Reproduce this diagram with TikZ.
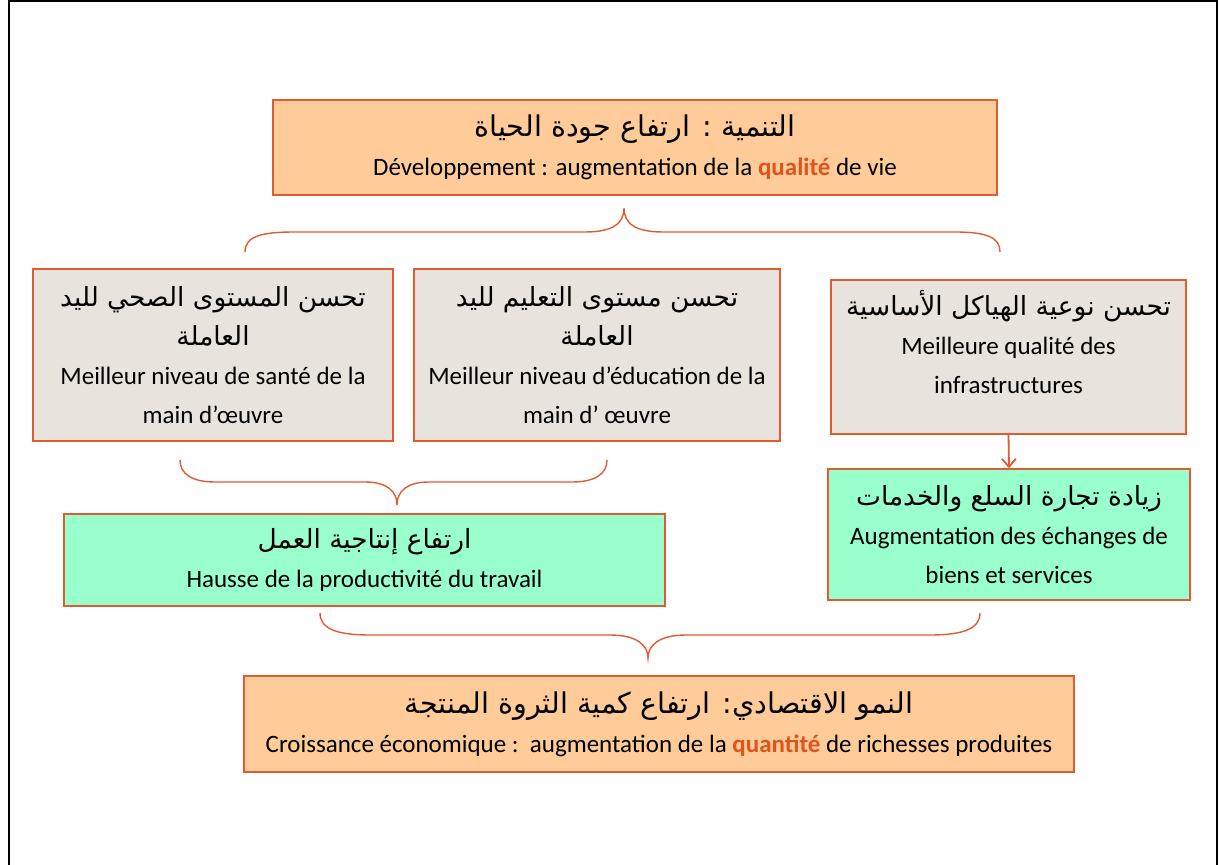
\documentclass[tikz,border=0pt]{standalone}
\usepackage{fontspec}
\setmainfont{Carlito}
\newfontfamily\arfont[Script=Arabic]{DejaVu Sans}
\TeXXeTstate=1
\usetikzlibrary{arrows.meta}
\definecolor{bord}{RGB}{224,92,48}
\definecolor{peach}{RGB}{255,204,153}
\definecolor{greyb}{RGB}{232,228,221}
\definecolor{mint}{RGB}{153,255,204}
\definecolor{hl}{RGB}{222,84,30}
\newcommand\AR[1]{{\arfont\fontsize{13.2}{20}\selectfont\beginR #1\endR}}
\newcommand\ARB[1]{{\arfont\fontsize{14.3}{20}\selectfont\beginR #1\endR}}
\newcommand\HL[1]{\textbf{\textcolor{hl}{#1}}}
\begin{document}
\begin{tikzpicture}[x=0.5pt,y=-0.5pt,
  box/.style={draw=bord,line width=0.8pt,rectangle,inner sep=0pt,align=center,
    font=\fontsize{12.5}{19.5}\selectfont},
  peachbox/.style={box,fill=peach},
  greybox/.style={box,fill=greyb},
  mintbox/.style={box,fill=mint},
  txt/.style={align=center,inner sep=0pt,font=\fontsize{12.5}{19.5}\selectfont},
  brace/.style={draw=bord,line width=0.7pt},
  arr/.style={draw=bord,line width=0.9pt,-{Straight Barb[length=4pt,width=7pt]}}]
\useasboundingbox (0,0) rectangle (1219,865);
% frame
\draw[line width=1.4pt] (9,866) -- (9,1) -- (1217,1) -- (1217,866);
% boxes
\node[peachbox,minimum width=362pt,minimum height=47.5pt] (top) at (635,147.5)
  {\ARB{التنمية : ارتفاع جودة الحياة}\\ Développement : augmentation de la \HL{qualité} de vie};
\node[greybox,minimum width=180pt,minimum height=86pt] (g1) at (213,355)
  {\AR{تحسن المستوى الصحي لليد}\\ \AR{العاملة}\\ Meilleur niveau de santé de la\\ main d’œuvre};
\node[greybox,minimum width=183pt,minimum height=86pt] (g2) at (597,355)
  {\AR{تحسن مستوى التعليم لليد}\\ \AR{العاملة}\\ Meilleur niveau d’éducation de la\\ main d’ œuvre};
\node[greybox,minimum width=177.5pt,minimum height=77pt] (g3) at (1008.5,357) {};
\node[txt] (g3t) at (1008.5,342)
  {\AR{تحسن نوعية الهياكل الأساسية}\\ Meilleure qualité des\\ infrastructures};
\node[mintbox,minimum width=181pt,minimum height=65.5pt] (gr2) at (1009,534.5)
  {\AR{زيادة تجارة السلع والخدمات}\\ Augmentation des échanges de\\ biens et services};
\node[mintbox,minimum width=300.5pt,minimum height=46pt] (gr1) at (364.5,560)
  {\AR{ارتفاع إنتاجية العمل}\\ Hausse de la productivité du travail};
\node[peachbox,minimum width=415pt,minimum height=48pt] (bot) at (659,724)
  {\ARB{النمو الاقتصادي: ارتفاع كمية الثروة المنتجة}\\ Croissance économique :\ \ augmentation de la \HL{quantité} de richesses produites};
% arrow
\draw[arr] (g3.south) -- (gr2.north);
% braces
\coordinate (b1l) at (245,252); \coordinate (b1t) at (624,208); \coordinate (b1r) at (1000,252);
\draw[brace] (b1l) .. controls (245,236) and (262,232) .. (295,232) -- (585,232)
  .. controls (612,232) and (624,224) .. (b1t)
  .. controls (624,224) and (636,232) .. (663,232) -- (955,232)
  .. controls (988,232) and (1000,238) .. (b1r);
\coordinate (b2l) at (180,460); \coordinate (b2t) at (397,505); \coordinate (b2r) at (607,460);
\draw[brace] (b2l) .. controls (180,474) and (192,482) .. (215,482) -- (365,482)
  .. controls (388,482) and (397,492) .. (b2t)
  .. controls (397,492) and (406,482) .. (429,482) -- (572,482)
  .. controls (595,482) and (607,474) .. (b2r);
\coordinate (b3l) at (320,613); \coordinate (b3t) at (648,658); \coordinate (b3r) at (980,613);
\draw[brace] (b3l) .. controls (320,628) and (335,635) .. (370,635) -- (610,635)
  .. controls (638,635) and (648,646) .. (b3t)
  .. controls (648,646) and (658,635) .. (686,635) -- (930,635)
  .. controls (965,635) and (980,628) .. (b3r);
\end{tikzpicture}
\end{document}
